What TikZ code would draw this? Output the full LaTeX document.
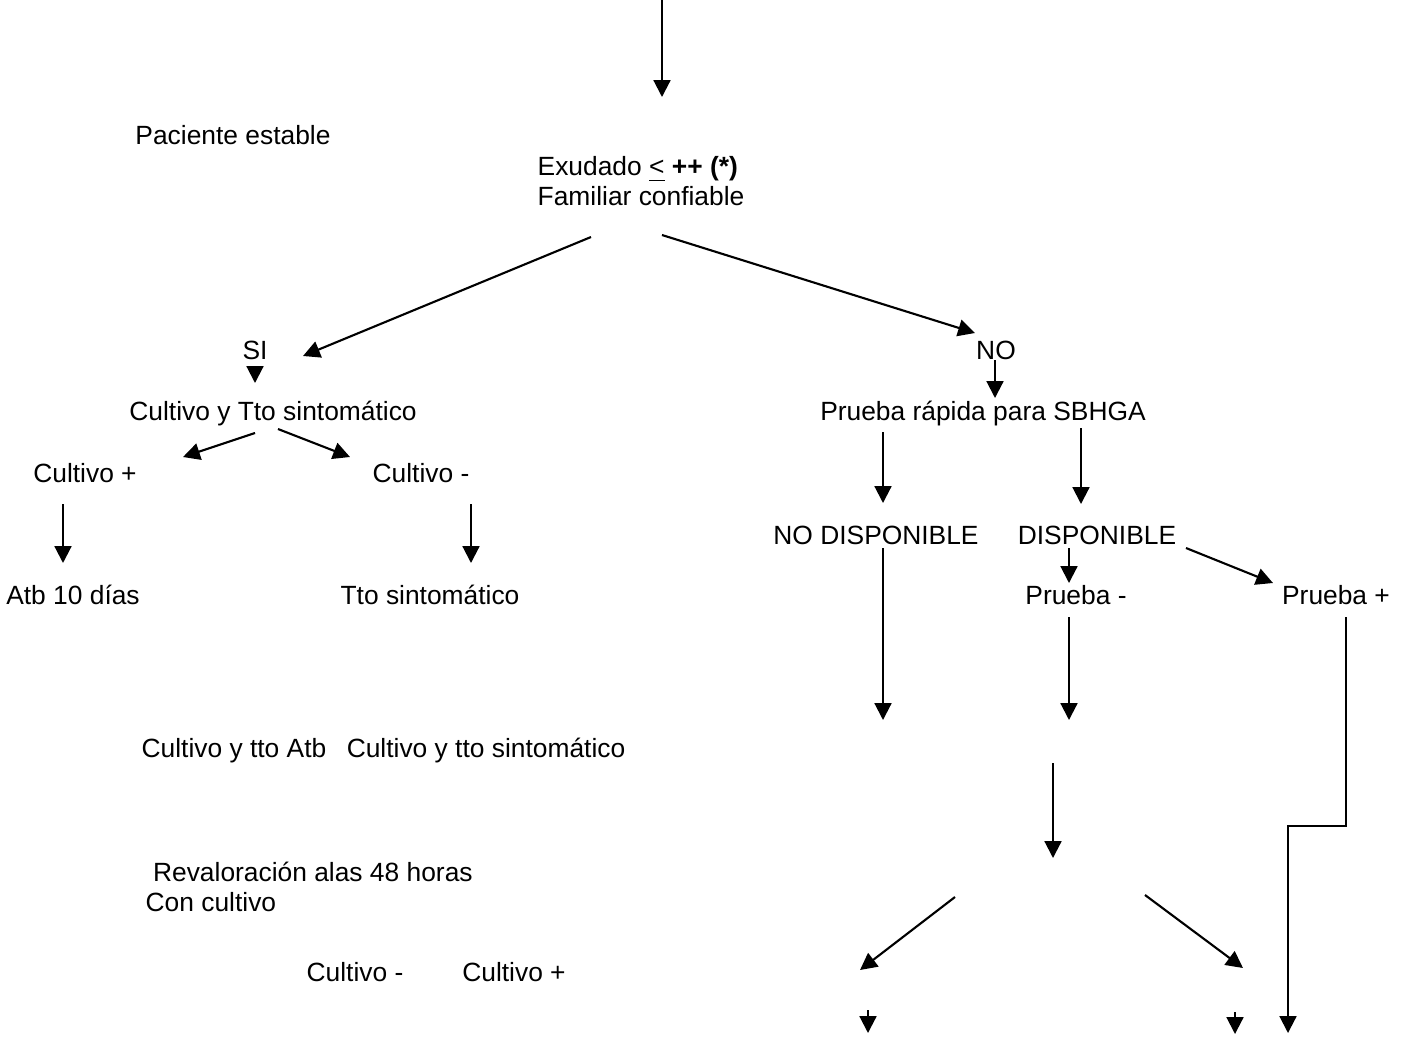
\documentclass[tikz,border=0pt]{standalone}
\usepackage{fontspec}
\setmainfont{Liberation Sans}
\usetikzlibrary{arrows.meta}

\begin{document}
\begin{tikzpicture}[
  x=0.01cm,
  y=-0.01cm,
  txt/.style={
    inner sep=0pt,
    anchor=base,
    font=\fontsize{7.5}{8.5}\selectfont,
  },
  arr/.style={
    line width=0.6pt,
    -{Triangle[length=4.8pt,width=4.8pt]},
  },
]
  \useasboundingbox (0,0) rectangle (1406,1036);

  \node[txt] (pac) at (233,144) {Paciente estable};
  \node[txt, anchor=north west, align=left] (exu) at (537,156) {
    Exudado \underline{<} \textbf{++ (*)}\\Familiar confiable
  };

  \node[txt] (si) at (255,359) {SI};
  \node[txt] (cyt) at (273,420) {Cultivo y Tto sintomático};
  \node[txt] (cpos) at (85,482) {Cultivo +};
  \node[txt] (cneg) at (421,482) {Cultivo -};
  \node[txt] (atb) at (73,604) {Atb 10 días};
  \node[txt] (tto) at (430,604) {Tto sintomático};

  \node[txt] (no) at (996,359) {NO};
  \node[txt] (prr) at (983,420) {Prueba rápida para SBHGA};
  \node[txt] (nodisp) at (876,544) {NO DISPONIBLE};
  \node[txt] (disp) at (1097,544) {DISPONIBLE};
  \node[txt] (pneg) at (1076,604) {Prueba -};
  \node[txt] (ppos) at (1336,604) {Prueba +};

  \node[txt] (ctatb) at (234,757) {Cultivo y tto Atb};
  \node[txt] (ctsint) at (486,757) {Cultivo y tto sintomático};
  \node[txt, anchor=north west, align=left] (reval) at (145,861) {
    \hspace*{2.1pt}Revaloración alas 48 horas\\Con cultivo
  };
  \node[txt] (cneg2) at (355,981) {Cultivo -};
  \node[txt] (cpos2) at (514,981) {Cultivo +};

  % loose ends
  \coordinate (top) at (662,0);
  \coordinate (topend) at (662,97);
  \coordinate (nodispend) at (883,720);
  \coordinate (pnegend) at (1069,720);
  \coordinate (bend) at (1288,826);
  \coordinate (pposend) at (1288,1033);
  \coordinate (midA) at (1053,763);
  \coordinate (midB) at (1053,858);
  \coordinate (lowLA) at (955,897);
  \coordinate (lowLB) at (860,970);
  \coordinate (lowRA) at (1145,895);
  \coordinate (lowRB) at (1243,968);
  \coordinate (botLA) at (868,1010);
  \coordinate (botLB) at (868,1033);
  \coordinate (botRA) at (1235,1012);
  \coordinate (botRB) at (1235,1034);

  \draw[arr] (top) -- (topend);
  \draw[arr] ([shift={(54,81)}]exu.north west) -- ([shift={(48,-3)}]si.base);
  \draw[arr] ([shift={(125,79)}]exu.north west) -- ([shift={(-21,-26)}]no.base);

  \draw[arr] ([shift={(0,8)}]si.base) -- ([shift={(-18,-37)}]cyt.base);
  \draw[arr] ([shift={(-18,13)}]cyt.base) -- ([shift={(98,-25)}]cpos.base);
  \draw[arr] ([shift={(5,9)}]cyt.base) -- ([shift={(-71,-25)}]cneg.base);
  \draw[arr] ([shift={(-22,22)}]cpos.base) -- ([shift={(-10,-41)}]atb.base);
  \draw[arr] ([shift={(50,22)}]cneg.base) -- ([shift={(41,-41)}]tto.base);

  \draw[arr] ([shift={(-1,1)}]no.base) -- ([shift={(12,-22)}]prr.base);
  \draw[arr] ([shift={(-100,12)}]prr.base) -- ([shift={(7,-41)}]nodisp.base);
  \draw[arr] ([shift={(98,8)}]prr.base) -- ([shift={(-16,-40)}]disp.base);
  \draw[arr] ([shift={(7,4)}]nodisp.base) -- (nodispend);
  \draw[arr] ([shift={(-28,4)}]disp.base) -- ([shift={(-7,-21)}]pneg.base);
  \draw[arr] ([shift={(89,4)}]disp.base) -- ([shift={(-63,-21)}]ppos.base);
  \draw[arr] ([shift={(-7,13)}]pneg.base) -- (pnegend);
  \draw[arr] ([shift={(10,13)}]ppos.base) |- (bend) -- (pposend);

  \draw[arr] (midA) -- (midB);
  \draw[arr] (lowLA) -- (lowLB);
  \draw[arr] (lowRA) -- (lowRB);
  \draw[arr] (botLA) -- (botLB);
  \draw[arr] (botRA) -- (botRB);
\end{tikzpicture}
\end{document}
